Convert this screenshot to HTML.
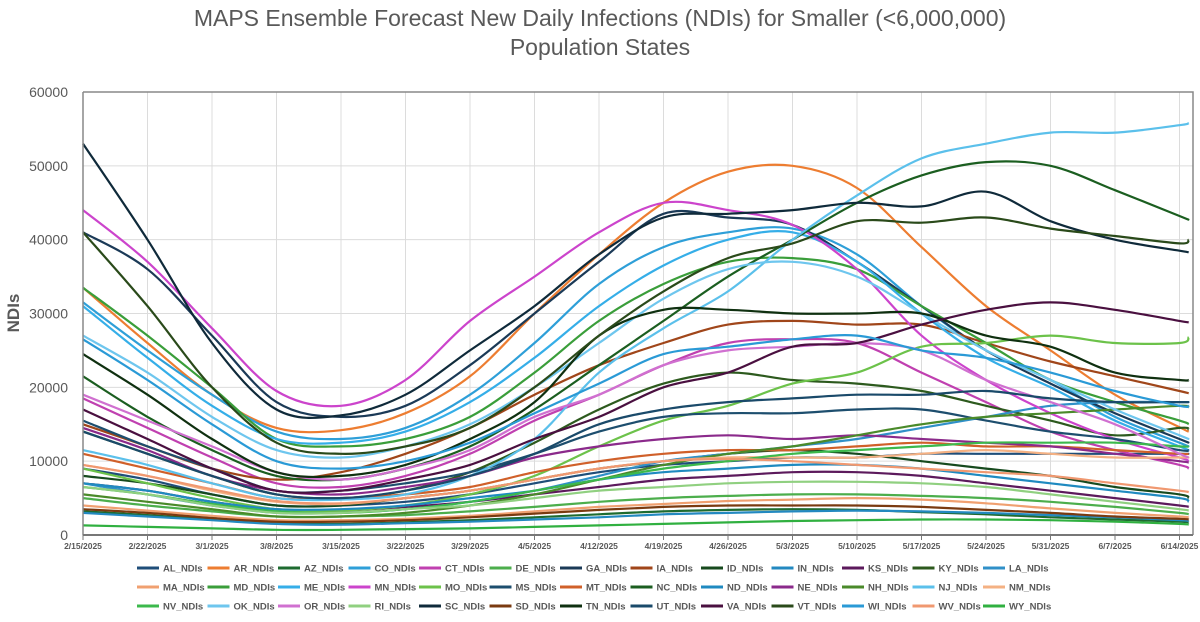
<!DOCTYPE html>
<html><head><meta charset="utf-8"><style>
body{margin:0;background:#fff;width:1200px;height:617px;overflow:hidden;font-family:"Liberation Sans",sans-serif}
svg text{font-family:"Liberation Sans",sans-serif}
</style></head><body>
<svg id="chart" width="1200" height="617" viewBox="0 0 1200 617" xmlns="http://www.w3.org/2000/svg">
<text x="600" y="26" text-anchor="middle" font-size="23" fill="#595959">MAPS Ensemble Forecast New Daily Infections (NDIs) for Smaller (&lt;6,000,000)</text>
<text x="600" y="55" text-anchor="middle" font-size="23" fill="#595959">Population States</text>
<text transform="translate(19,313) rotate(-90)" text-anchor="middle" font-size="17" font-weight="bold" fill="#595959">NDIs</text>
<g id="grid"></g><g id="series"></g><g id="axes"></g><g id="legend"></g>
</svg>
<script>
const days=[0,7,14,21,28,35,42,49,56,63,70,77,84,91,98,105,112,119,120];
const xTickLabels=["2/15/2025","2/22/2025","3/1/2025","3/8/2025","3/15/2025","3/22/2025","3/29/2025","4/5/2025","4/12/2025","4/19/2025","4/26/2025","5/3/2025","5/10/2025","5/17/2025","5/24/2025","5/31/2025","6/7/2025","6/14/2025"];
const yTicks=[0,10000,20000,30000,40000,50000,60000];
const names=["AL","AR","AZ","CO","CT","DE","GA","IA","ID","IN","KS","KY","LA","MA","MD","ME","MN","MO","MS","MT","NC","ND","NE","NH","NJ","NM","NV","OK","OR","RI","SC","SD","TN","UT","VA","VT","WI","WV","WY"];
const colors=["#1f4e79","#ed7d31","#1e6b30","#2e9fd8","#c040b0","#4cae4c","#1b3a57","#a0461a","#174a1e","#2389c0","#5c1a5c","#2d5a1e","#3090c8","#f0a070","#3a9e3a","#35aee8","#cc44cc","#6cc24a","#1d4e6e","#d0602a","#1b5e20","#1f8ac0","#8b2a8b","#4a8a2a","#5bc0eb","#f4b183","#3cb94c","#6ec6ee","#d070d0","#90d080","#0f2a3a","#7a3a10","#0f3010","#1a4a6a","#4a1040","#2a4a1a","#2a9ad6","#f09870","#30b040"];
// values in thousands
const AL=[9,7.5,5.5,4,4,4.5,5.5,7,8.5,9.5,10,10.5,10.5,11,11,11,11,11,11];
const AR=[33.5,26,19,14.5,14.2,16.5,21.5,30,38,45,49.2,50,47,39,31,25,19,14.6,14];
const AZ=[3.2,2.7,2.1,1.6,1.5,1.7,2,2.4,2.8,3.2,3.4,3.5,3.4,3.1,2.8,2.4,2.1,1.8,1.7];
const CO=[31.5,25,19,14,13,14.5,19,26,34,39,41,41.5,38,31,25,21,16,12.5,12];
const CT=[18.5,14.5,10.5,7,6.5,8,11,15.5,19,23,26,26.5,26,22,18,14,11.5,9.5,9];
const DE=[5,4,3.2,2.5,2.5,2.7,3.2,3.8,4.5,5,5.3,5.5,5.5,5.3,5,4.5,3.8,3,2.8];
const GA=[41,36,27,18,16,17.5,23,30,37,43.5,43,42,37,31,25,20.5,16.5,13,12.5];
const IA=[15,12,9,7.5,8.5,11,14.5,19,23,26,28.5,29,28.5,28.5,26,23.5,21.5,19.5,19.2];
const ID=[8,7,5.5,4,4,5,6,7.5,9,10,11,11.5,11,10,9,8,6.5,5.5,5];
const IN=[3,2.5,2,1.5,1.4,1.6,1.8,2.1,2.4,2.8,3,3.2,3.3,3.2,3,2.7,2.4,2,1.9];
const KS=[7,6,4.5,3.5,3.3,3.8,4.5,5.5,6.5,7.5,8,8.5,8.5,8,7,6,5,4,3.8];
const KY=[14,11,8,5.5,5,6,8.5,12.5,17,20.5,22,21,20.5,19.5,17.5,15.5,13.5,14.5,14.3];
const LA=[7,5.5,4,3,3,3.5,4.5,6,8,10,11,12,13,14.5,16,17.5,18,18,18];
const MA=[4,3.3,2.6,2,2,2.2,2.6,3.2,3.8,4.2,4.6,4.8,5,4.8,4.3,3.6,3,2.5,2.4];
const MD=[33.5,27,20,13,12,13,16,22,29,34,37,37.5,36,31,26,21,18,15.5,15];
const ME=[31,24,17.5,13,12.5,14,18,24,31,36.5,40,41,37,30,24,20,15.5,12,11.5];
const MN=[44,37,28,19.5,17.5,21,29,35,41,45,44,42,36,27,21,16.5,13,10.5,10];
const MO=[9,7,5,3.5,3.3,4,5.5,8,12,15.5,17.5,20.5,22,25.5,26,27,26,26,26.8];
const MS=[15.5,12,9,6,6,7,8.5,11,14,16,16.5,16.5,17,17,15.5,14,13,11.5,11.5];
const MT=[11,9,7,5,5,5.5,6.5,8.5,10,11,11.5,11.5,12,12.5,12,12,11.5,11,11];
const NC=[21.5,16,11.5,8,7.5,9,12,17,23,29,35,40,45,48.7,50.5,50,46.7,43.2,42.7];
const ND=[7,6,4.5,3.5,3.5,4,5,6,7.5,8.5,9,9.5,9.5,9,8,7,6,5,4.5];
const NE=[14.5,11.5,8,6,5.5,6.5,8,10.5,12,13,13.5,13,13.5,13,12.5,12,11,10,9.8];
const NH=[5.5,4.5,3.5,2.5,2.5,3,4,5.5,7.5,9.5,11,12,13.5,15,16,16.5,17,17.5,17.3];
const NJ=[11.5,9.5,7,5,4.8,5.5,8,13,22,28,33,40,46,51,53,54.5,54.5,55.5,55.8];
const NM=[9.5,8,6,4.5,4.2,5,6,7.5,9,10,10.5,10.5,10.5,11,11.5,11,10.5,10.5,10.5];
const NV=[6.5,5.5,4.2,3.2,3,3.5,4.5,6,7.5,9,10,11,11.5,12,12.5,12.5,12.5,12,12];
const OK=[27,22,16,11.5,10.5,12,15,20,26,32,36,37,35,30,25,21,17,13.5,13];
const OR=[19,15.5,12,8.5,7.5,9,11.5,16,19,23,25,25.5,26,25,21,18,15,11,10.5];
const RI=[6.5,5.5,4,3,3,3.5,4,5,6,6.5,7,7.2,7.2,7,6.5,5.5,4.5,3.5,3.3];
const SC=[53,40,26,17,16.2,19,25,31,38,43,43.5,44,45,44.5,46.5,42.5,40,38.5,38.3];
const SD=[3.5,3,2.3,1.8,1.8,2,2.4,2.9,3.4,3.8,4,4,4,3.8,3.4,3,2.5,2.2,2.1];
const TN=[24.5,19,13,8.5,8,9.5,13,18,27,30.5,30.5,30,30,30,27,25.5,22,21,21];
const UT=[14,11,8,5.5,5,6,8,11,15,17,18,18.5,19,19,19.5,18.5,18,18,18];
const VA=[17,13,9,6,6,7.5,9.5,13,16,20,22,25.5,26,28.5,30.5,31.5,30.5,29,28.8];
const VT=[41,31,20,12.5,11,12,14.5,20,27,33,37.5,39.5,42.5,42.3,43,41.5,40.5,39.5,40];
const WI=[26.5,21,15,10,9,10,12.5,16.5,20.5,24.5,25.5,26.5,27,25,24,22,19.5,17.5,17.5];
const WV=[9.5,8,6.2,4.6,4.3,5,6,7.5,9,10,10.3,10,9.5,9,8.5,8,7,6,5.8];
const WY=[1.3,1.1,0.9,0.7,0.7,0.8,0.9,1.1,1.3,1.5,1.7,1.9,2,2.1,2.1,2,1.8,1.5,1.4];
const seriesData=[AL,AR,AZ,CO,CT,DE,GA,IA,ID,IN,KS,KY,LA,MA,MD,ME,MN,MO,MS,MT,NC,ND,NE,NH,NJ,NM,NV,OK,OR,RI,SC,SD,TN,UT,VA,VT,WI,WV,WY];

const NS="http://www.w3.org/2000/svg";
const X0=83,X1=1193,Y0=535,Y1=92,PXDAY=(1179.5-83)/119;
function xs(d){return X0+d*PXDAY;}
function ys(v){return Y0-(v/60000)*(Y0-Y1);}
function mk(t,a,p){const e=document.createElementNS(NS,t);for(const k in a)e.setAttribute(k,a[k]);p.appendChild(e);return e;}
const grid=document.getElementById('grid'),axes=document.getElementById('axes'),ser=document.getElementById('series'),leg=document.getElementById('legend');
mk('rect',{x:X0,y:Y1,width:X1-X0,height:Y0-Y1,fill:'#fff'},grid);
yTicks.forEach(v=>{
  const l=mk('line',{x1:X0,x2:X1,y1:ys(v),y2:ys(v),stroke:'#dcdcdc','stroke-width':1},grid);
  
  
  const t=mk('text',{x:68,y:ys(v)+5,'text-anchor':'end','font-size':14,fill:'#595959'},axes);
  t.textContent=v;
  
  
});
xTickLabels.forEach((s,i)=>{
  const x=xs(i*7);
  const l=mk('line',{x1:x,x2:x,y1:Y1,y2:Y0,stroke:'#dcdcdc','stroke-width':1},grid);
  
  
  mk('line',{x1:x,x2:x,y1:Y0,y2:Y0+5,stroke:'#777'},axes);
  const t=mk('text',{x:x,y:549,'text-anchor':'middle','font-size':8.5,'font-weight':'bold',fill:'#595959'},axes);
  t.textContent=s;
  
  
});
mk('path',{d:`M${X0},${Y1}H${X1}V${Y0}M${X0},${Y1}V${Y0}`,fill:'none',stroke:'#888','stroke-width':1.5},axes);
mk('line',{x1:X0,x2:X1,y1:Y0,y2:Y0,stroke:'#777','stroke-width':2},axes);

function pathFor(vals){
  const p=vals.map((v,i)=>[xs(days[i]),ys(v*1000)]);
  let d=`M${p[0][0].toFixed(1)},${p[0][1].toFixed(1)}`;
  for(let i=0;i<p.length-1;i++){
    const a=p[i-1]||p[i],b=p[i],c=p[i+1],e=p[i+2]||c;
    const c1=[b[0]+(c[0]-a[0])/6,b[1]+(c[1]-a[1])/6],c2=[c[0]-(e[0]-b[0])/6,c[1]-(e[1]-b[1])/6];
    d+=`C${c1[0].toFixed(1)},${c1[1].toFixed(1)} ${c2[0].toFixed(1)},${c2[1].toFixed(1)} ${c[0].toFixed(1)},${c[1].toFixed(1)}`;
  }
  return d;
}
seriesData.forEach((vals,i)=>{
  const pth=mk('path',{d:pathFor(vals),fill:'none',stroke:colors[i],'stroke-width':2.2,'stroke-linejoin':'round'},ser);
  
  
  const row=Math.floor(i/13),col=i%13;
  const lx=137+col*70.5,ly=568+row*19;
  const g=mk('g',{},leg);
  
  
  mk('line',{x1:lx,x2:lx+22,y1:ly,y2:ly,stroke:colors[i],'stroke-width':3},g);
  const t=mk('text',{x:lx+26,y:ly+3.5,'font-size':9.5,'font-weight':'bold',fill:'#595959'},g);
  t.textContent=names[i]+'_NDIs';
});
</script>
</body></html>
